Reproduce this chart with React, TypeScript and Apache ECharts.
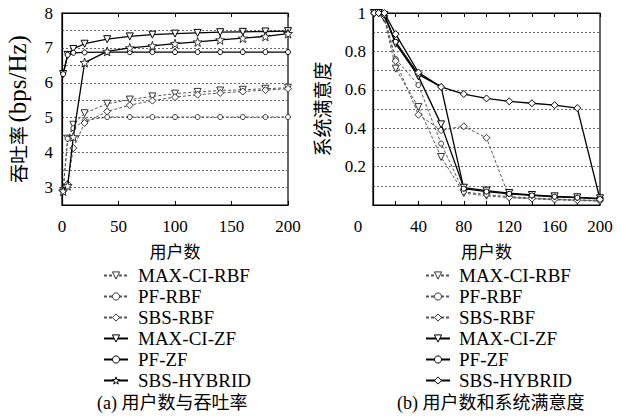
import React, { useEffect, useRef } from "react";
import * as echarts from "echarts";

const users = [1, 5, 10, 20, 40, 60, 80, 100, 120, 140, 160, 180, 200];
const seriesNames = ["MAX-CI-RBF", "PF-RBF", "SBS-RBF", "MAX-CI-ZF", "PF-ZF", "SBS-HYBRID"];

// (a) throughput (bps/Hz)
const tpMaxCiRbf = [2.9, 4.4, 4.8, 5.13, 5.4, 5.52, 5.61, 5.69, 5.74, 5.78, 5.8, 5.83, 5.86];
const tpPfRbf = [2.9, 4.4, 4.7, 4.92, 5.02, 5.02, 5.02, 5.02, 5.02, 5.02, 5.02, 5.02, 5.02];
const tpSbsRbf = [2.9, 3.1, 4.13, 4.85, 5.18, 5.36, 5.49, 5.59, 5.66, 5.71, 5.75, 5.79, 5.83];
const tpMaxCiZf = [6.25, 6.8, 6.97, 7.12, 7.25, 7.33, 7.38, 7.41, 7.43, 7.45, 7.46, 7.47, 7.48];
const tpPfZf = [6.25, 6.8, 6.86, 6.87, 6.88, 6.88, 6.88, 6.88, 6.88, 6.88, 6.88, 6.88, 6.88];
const tpSbsHybrid = [2.9, 3.05, 4.45, 6.58, 6.9, 7.0, 7.06, 7.12, 7.17, 7.23, 7.28, 7.33, 7.41];

// (b) system satisfaction
const sMaxCiRbf = [1, 1, 0.97, 0.71, 0.51, 0.25, 0.062, 0.048, 0.038, 0.032, 0.027, 0.023, 0.02];
const sPfRbf = [1, 1, 0.98, 0.76, 0.625, 0.32, 0.068, 0.054, 0.044, 0.037, 0.031, 0.027, 0.024];
const sSbsRbf = [1, 1, 0.98, 0.75, 0.47, 0.39, 0.41, 0.35, 0.04, 0.034, 0.029, 0.025, 0.022];
const sMaxCiZf = [1, 1, 0.99, 0.84, 0.67, 0.42, 0.09, 0.075, 0.062, 0.052, 0.045, 0.04, 0.035];
const sPfZf = [1, 1, 0.99, 0.85, 0.68, 0.615, 0.085, 0.07, 0.058, 0.05, 0.043, 0.038, 0.032];
const sSbsHybrid = [1, 1, 1, 0.89, 0.69, 0.615, 0.578, 0.555, 0.54, 0.53, 0.52, 0.505, 0.03];

const leftTickLabels = ["3", "4", "5", "6", "7", "8"];
const rightTickLabels = ["0.2", "0.4", "0.6", "0.8", "1"];

const FONT = '"Liberation Serif", "Noto Sans CJK SC", serif';
const CJK = '"Noto Sans CJK SC", sans-serif';
const STAR =
  "path://M0,-10 L2.35,-3.24 L9.51,-3.09 L3.8,1.24 L5.88,8.09 L0,4 L-5.88,8.09 L-3.8,1.24 L-9.51,-3.09 L-2.35,-3.24 Z";

type Sty = { symbol: string; rotate: number; size: number; bw: number };
const styTri: Sty = { symbol: "triangle", rotate: 180, size: 7, bw: 1 };
const styCir: Sty = { symbol: "circle", rotate: 0, size: 5, bw: 1 };
const styDia: Sty = { symbol: "diamond", rotate: 0, size: 7, bw: 1 };
const styStar: Sty = { symbol: STAR, rotate: 0, size: 9, bw: 0.8 };

function mk(name: string, vals: number[], s: Sty, dashed: boolean, axis: number, prefix: string) {
  return {
    type: "line",
    name: prefix + name,
    xAxisIndex: axis,
    yAxisIndex: axis,
    data: users.map((u, i) => [u, vals[i]]),
    symbol: s.symbol,
    symbolRotate: s.rotate,
    symbolSize: s.size,
    showSymbol: true,
    lineStyle: {
      color: dashed ? "#555" : "#000",
      width: dashed ? 1 : 1.3,
      type: dashed ? [3, 2] : "solid",
    },
    itemStyle: { color: "#fff", borderColor: dashed ? "#333" : "#000", borderWidth: s.bw },
    z: dashed ? 2 : 3,
  };
}

export default function App() {
  const ref = useRef<HTMLDivElement>(null);
  useEffect(() => {
    if (!ref.current) return;
    const chart = echarts.init(ref.current, undefined, { renderer: "svg" });
    const leftVals = [tpMaxCiRbf, tpPfRbf, tpSbsRbf, tpMaxCiZf, tpPfZf, tpSbsHybrid];
    const rightVals = [sMaxCiRbf, sPfRbf, sSbsRbf, sMaxCiZf, sPfZf, sSbsHybrid];
    const leftSty = [styTri, styCir, styDia, styTri, styCir, styStar];
    const rightSty = [styTri, styCir, styDia, styTri, styCir, styDia];
    const series: any[] = [];
    seriesNames.forEach((n, i) => series.push(mk(n, leftVals[i], leftSty[i], i < 3, 0, "")));
    seriesNames.forEach((n, i) => series.push(mk(n, rightVals[i], rightSty[i], i < 3, 1, "b:")));

    const labelStyle = { color: "#000", fontFamily: FONT, fontSize: 17 };
    const splitLine = { show: true, lineStyle: { color: "#666", type: [2, 2], width: 1 } };
    const axisLine = { show: true, lineStyle: { color: "#000", width: 1.2 } };
    const legendItemStyle = { color: "#fff", borderColor: "inherit", borderWidth: 1 };

    const option: any = {
      animation: false,
      grid: [
        { left: 62, top: 13, width: 226, height: 192, show: true, borderColor: "#000", borderWidth: 1.2 },
        { left: 373, top: 13, width: 227, height: 192, show: true, borderColor: "#000", borderWidth: 1.2 },
      ],
      xAxis: [
        {
          type: "value", gridIndex: 0, min: 0, max: 200, interval: 50,
          axisLine, axisTick: { show: true, inside: true, length: 4, lineStyle: { color: "#000" } },
          splitLine: { show: false },
          axisLabel: { ...labelStyle, margin: 13 },
          name: "用户数", nameLocation: "middle", nameGap: 37,
          nameTextStyle: { color: "#000", fontFamily: CJK, fontSize: 17 },
        },
        {
          type: "value", gridIndex: 1, min: 0, max: 200, interval: 20,
          axisLine, axisTick: { show: true, inside: true, length: 4, lineStyle: { color: "#000" } },
          splitLine: { show: false },
          axisLabel: {
            ...labelStyle, margin: 13,
            formatter: (v: number) => (v === 0 ? "{z|0}" : v % 40 === 0 ? String(v) : ""),
            rich: { z: { ...labelStyle, padding: [0, 30, 0, 0] } },
          },
          name: "用户数", nameLocation: "middle", nameGap: 37,
          nameTextStyle: { color: "#000", fontFamily: CJK, fontSize: 17 },
        },
        {
          type: "value", gridIndex: 0, min: 0, max: 200, interval: 50, position: "top",
          axisLine, axisTick: { show: true, inside: true, length: 4, lineStyle: { color: "#000" } },
          axisLabel: { show: false }, splitLine: { show: false },
        },
        {
          type: "value", gridIndex: 1, min: 0, max: 200, interval: 20, position: "top",
          axisLine, axisTick: { show: true, inside: true, length: 4, lineStyle: { color: "#000" } },
          axisLabel: { show: false }, splitLine: { show: false },
        },
      ],
      yAxis: [
        {
          type: "value", gridIndex: 0, min: 2.5, max: 8, interval: 0.5,
          axisLine, axisTick: { show: false }, splitLine,
          axisLabel: {
            ...labelStyle, margin: 9,
            formatter: (v: number) => {
              const s = String(Math.round(v));
              return Math.abs(v - Math.round(v)) < 1e-6 && leftTickLabels.includes(s) ? s : "";
            },
          },
          name: "{a|吞吐率} {b|(bps/Hz)}", nameLocation: "middle", nameRotate: 90, nameGap: 32,
          nameTextStyle: {
            color: "#000",
            rich: {
              a: { fontFamily: CJK, fontSize: 19, color: "#000" },
              b: { fontFamily: FONT, fontSize: 25, color: "#000" },
            },
          },
        },
        {
          type: "value", gridIndex: 1, min: 0, max: 1, interval: 0.1,
          axisLine, axisTick: { show: false }, splitLine,
          axisLabel: {
            ...labelStyle, margin: 7,
            formatter: (v: number) => {
              const s = String(Math.round(v * 10) / 10);
              return rightTickLabels.includes(s) ? s : "";
            },
          },
          name: "系统满意度", nameLocation: "middle", nameRotate: 90, nameGap: 42,
          nameTextStyle: { color: "#000", fontFamily: CJK, fontSize: 19 },
        },
      ],
      legend: [
        {
          data: seriesNames, orient: "vertical", left: 103, top: 266, padding: 0,
          itemWidth: 24, itemHeight: 9, itemGap: 2,
          itemStyle: legendItemStyle,
          textStyle: { color: "#000", fontFamily: FONT, fontSize: 19, lineHeight: 19, padding: [0, 0, 0, 5] },
          selectedMode: false,
        },
        {
          data: seriesNames.map((n) => "b:" + n), orient: "vertical", left: 425, top: 266, padding: 0,
          itemWidth: 24, itemHeight: 9, itemGap: 2,
          itemStyle: legendItemStyle,
          formatter: (n: string) => n.replace(/^b:/, ""),
          textStyle: { color: "#000", fontFamily: FONT, fontSize: 19, lineHeight: 19, padding: [0, 0, 0, 4] },
          selectedMode: false,
        },
      ],
      graphic: [
        {
          type: "text", left: 97, top: 394,
          style: { text: "(a) 用户数与吞吐率", fill: "#000", font: '18px "Liberation Serif", "Noto Sans CJK SC", serif' },
        },
        {
          type: "text", left: 397, top: 394,
          style: { text: "(b) 用户数和系统满意度", fill: "#000", font: '18px "Liberation Serif", "Noto Sans CJK SC", serif' },
        },
      ],
      series,
    };
    chart.setOption(option);
    return () => chart.dispose();
  }, []);
  return (
    <div
      ref={ref}
      style={{ position: "fixed", left: 0, top: 0, width: 626, height: 418, background: "#fff" }}
    />
  );
}
